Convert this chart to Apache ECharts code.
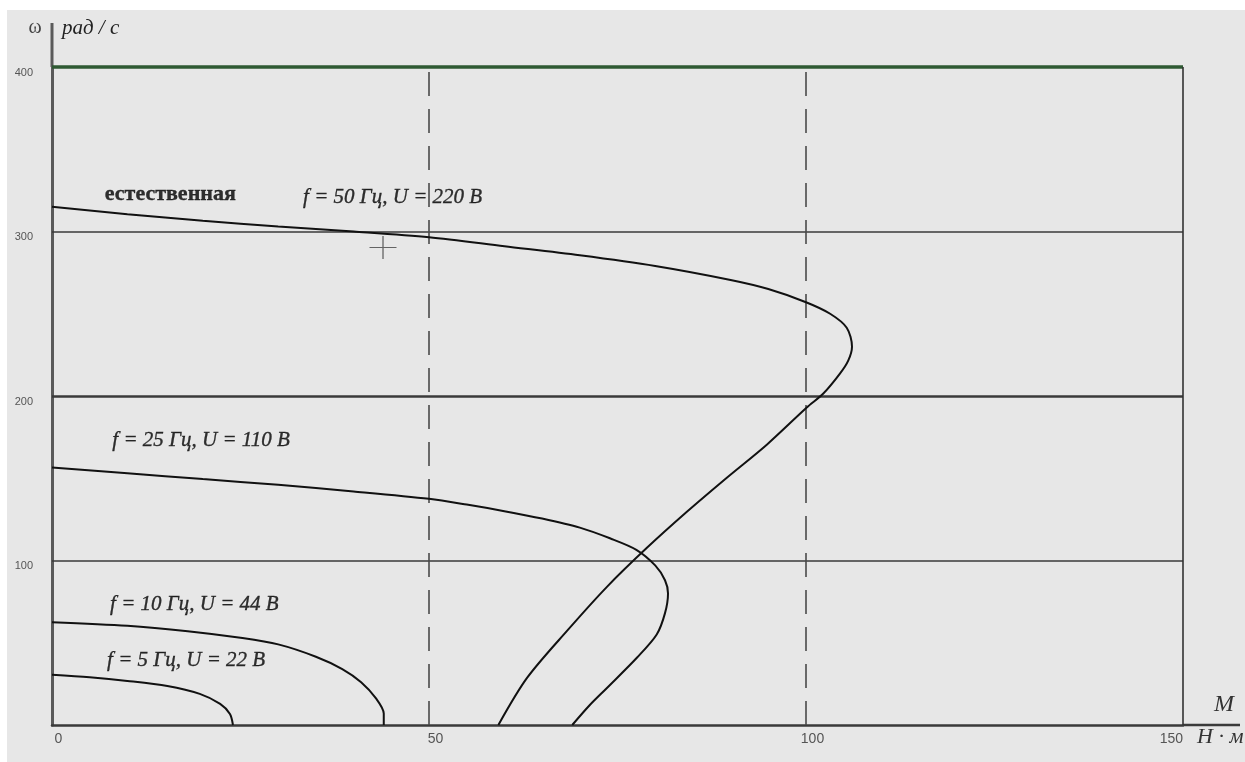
<!DOCTYPE html>
<html>
<head>
<meta charset="utf-8">
<script src="https://cdn.jsdelivr.net/npm/echarts@6/dist/echarts.min.js"></script>
<style>
  html, body { margin: 0; padding: 0; background: #ffffff; }
  #chart { position: absolute; left: 7px; top: 10px; width: 1238px; height: 752px; background: #e7e7e7; }
</style>
</head>
<body>
<div id="chart"></div>
<script>
// Mechanical characteristics ω(M) of an induction motor under frequency control (U/f = const)

// natural characteristic, f = 50 Hz, U = 220 V
const naturalM = [0, 10, 20, 30, 40, 50, 60, 70, 80, 90, 95, 100, 103.2, 105.4, 106.1, 105.6, 104.5, 102.3, 100.1, 94.8, 89.5, 84.2, 78.9, 73.6, 68.3, 63, 59.2];
const naturalW = [315, 310.5, 306.5, 303, 300, 296.5, 291, 285.5, 279, 270.5, 265, 257, 250, 241.5, 230, 221.5, 213.6, 201.5, 193, 170.4, 150.3, 129.6, 107.7, 84, 57.2, 28.6, 0];

// f = 25 Hz, U = 110 V
const f25M = [0, 10, 20, 30, 40, 50, 55, 60, 65, 70, 74, 77.5, 80, 81.3, 81.7, 81.3, 80.2, 77.6, 73.6, 71.3, 69];
const f25W = [156.5, 153, 149.5, 146, 142, 137.5, 134, 130, 125.5, 120, 113.5, 106.5, 97, 88, 80, 68, 55, 41, 22.5, 12, 0];

// f = 10 Hz, U = 44 V
const f10M = [0, 10, 18, 25, 30, 35, 38.5, 41, 43, 44, 44];
const f10W = [62.5, 60.3, 57, 53, 49, 41.5, 34, 26, 16, 7, 0];

// f = 5 Hz, U = 22 V
const f5M = [0, 5, 10, 15.3, 19.6, 22.3, 23.6, 24];
const f5W = [30.5, 29, 26.8, 23.7, 18.9, 12.8, 6.7, 0];

// reference levels
const speedGrid = [100, 200, 300];
const syncSpeed = 400;
const torqueGuides = [50, 100];
const torqueMax = 150;

// cursor cross
const cursorPoint = [43.9, 290.3];

// tick values
const xTicks = { min: 0, max: 150, step: 50 };
const yTicks = { min: 0, max: 400, step: 100 };

// curve captions: [M, ω, text]
const captions = [
  [7.0, 322.6, 'естественная'],
  [33.3, 320.8, 'f = 50 Гц, U = 220 В'],
  [8.0, 172.9, 'f = 25 Гц, U = 110 В'],
  [7.7, 73.0, 'f = 10 Гц, U = 44 В'],
  [7.3, 39.0, 'f = 5 Гц, U = 22 В']
];

const zip = (a, b) => a.map((v, i) => [v, b[i]]);

const curveStyle = { color: '#111111', width: 2 };
function curve(name, M, W) {
  return {
    name, type: 'line', data: zip(M, W), smooth: 0.3, showSymbol: false,
    lineStyle: curveStyle, itemStyle: { color: '#111111' }, z: 5, silent: true
  };
}

const serif = '"Liberation Serif", "DejaVu Serif", serif';

const chart = echarts.init(document.getElementById('chart'), null, { renderer: 'canvas' });

const refLines = [];
speedGrid.forEach(v => refLines.push({
  yAxis: v, lineStyle: { color: '#3a3a3a', width: v === 200 ? 2.5 : 1.5, type: 'solid' }
}));
refLines.push({ yAxis: syncSpeed, lineStyle: { color: '#2f5a33', width: 3.5, type: 'solid' } });
torqueGuides.forEach(v => refLines.push({
  xAxis: v, lineStyle: { color: '#4a4a4a', width: 1.6, type: [24, 13] }
}));
refLines.push({ xAxis: torqueMax, lineStyle: { color: '#333333', width: 1.6, type: 'solid' } });

chart.setOption({
  animation: false,
  backgroundColor: 'transparent',
  grid: { left: 45, top: 57, right: 62, bottom: 37, containLabel: false },
  xAxis: {
    type: 'value', min: xTicks.min, max: xTicks.max, interval: xTicks.step,
    axisLine: { show: true, onZero: false, lineStyle: { color: '#3a3a3a', width: 2.5 } },
    axisTick: { show: false },
    splitLine: { show: false },
    axisLabel: {
      color: '#555555', fontFamily: '"Liberation Sans", Arial, sans-serif', fontSize: 14,
      margin: 7, align: 'center', padding: [0, 0, 0, 13], alignMaxLabel: 'right'
    }
  },
  yAxis: {
    type: 'value', min: yTicks.min, max: yTicks.max, interval: yTicks.step,
    axisLine: { show: true, onZero: false, lineStyle: { color: '#5a5a5a', width: 3 } },
    axisTick: { show: false },
    splitLine: { show: false },
    axisLabel: {
      color: '#555555', fontFamily: '"Liberation Sans", Arial, sans-serif', fontSize: 11,
      margin: 19, verticalAlign: 'top', showMinLabel: false
    }
  },
  series: [
    {
      type: 'line', data: [], silent: true, z: 2,
      markLine: { silent: true, symbol: ['none', 'none'], label: { show: false }, data: refLines }
    },
    curve('естественная', naturalM, naturalW),
    curve('f25', f25M, f25W),
    curve('f10', f10M, f10W),
    curve('f5', f5M, f5W),
    {
      type: 'scatter', data: [cursorPoint], silent: true, z: 6,
      symbol: 'path://M0,12L24,12M12,0L12,24', symbolSize: [27, 23],
      itemStyle: { color: 'none', borderColor: '#444444', borderWidth: 1.2 }
    },
    {
      type: 'scatter', silent: true, z: 7, symbolSize: 0,
      data: captions.map((c, i) => ({
        value: [c[0], c[1]],
        label: i === 0
          ? { fontWeight: 'bold', fontStyle: 'normal', fontSize: 22 }
          : { fontWeight: 'normal', fontStyle: 'italic', fontSize: 21 }
      })),
      label: {
        show: true, position: 'right', distance: 0,
        color: '#000000', fontFamily: serif,
        textBorderColor: '#000000', textBorderWidth: 0.35,
        formatter: p => captions[p.dataIndex][2]
      }
    }
  ]
});

// axis extensions and axis titles
const topLeft = chart.convertToPixel({ gridIndex: 0 }, [0, yTicks.max]);
const rightEnd = chart.convertToPixel({ gridIndex: 0 }, [xTicks.max, 0]);

chart.setOption({
  graphic: [
    { type: 'line', silent: true, shape: { x1: topLeft[0], y1: topLeft[1], x2: topLeft[0], y2: topLeft[1] - 44 },
      style: { stroke: '#5a5a5a', lineWidth: 3 } },
    { type: 'line', silent: true, shape: { x1: rightEnd[0], y1: rightEnd[1], x2: rightEnd[0] + 57, y2: rightEnd[1] },
      style: { stroke: '#3a3a3a', lineWidth: 2.5 } },
    { type: 'text', silent: true, x: topLeft[0] - 17, y: topLeft[1] - 39,
      style: { text: 'ω', font: '20px ' + serif, fill: '#444444', textAlign: 'center', textVerticalAlign: 'middle' } },
    { type: 'text', silent: true, x: topLeft[0] + 10, y: topLeft[1] - 39,
      style: { text: 'рад / с', font: 'italic 21px ' + serif, fill: '#222222', textAlign: 'left', textVerticalAlign: 'middle' } },
    { type: 'text', silent: true, x: rightEnd[0] + 31, y: rightEnd[1] - 20,
      style: { text: 'M', font: 'italic 24px ' + serif, fill: '#333333', textAlign: 'left', textVerticalAlign: 'middle' } },
    { type: 'text', silent: true, x: rightEnd[0] + 14, y: rightEnd[1] + 12,
      style: { text: 'Н · м', font: 'italic 22px ' + serif, fill: '#333333', textAlign: 'left', textVerticalAlign: 'middle' } }
  ]
});
</script>
</body>
</html>
